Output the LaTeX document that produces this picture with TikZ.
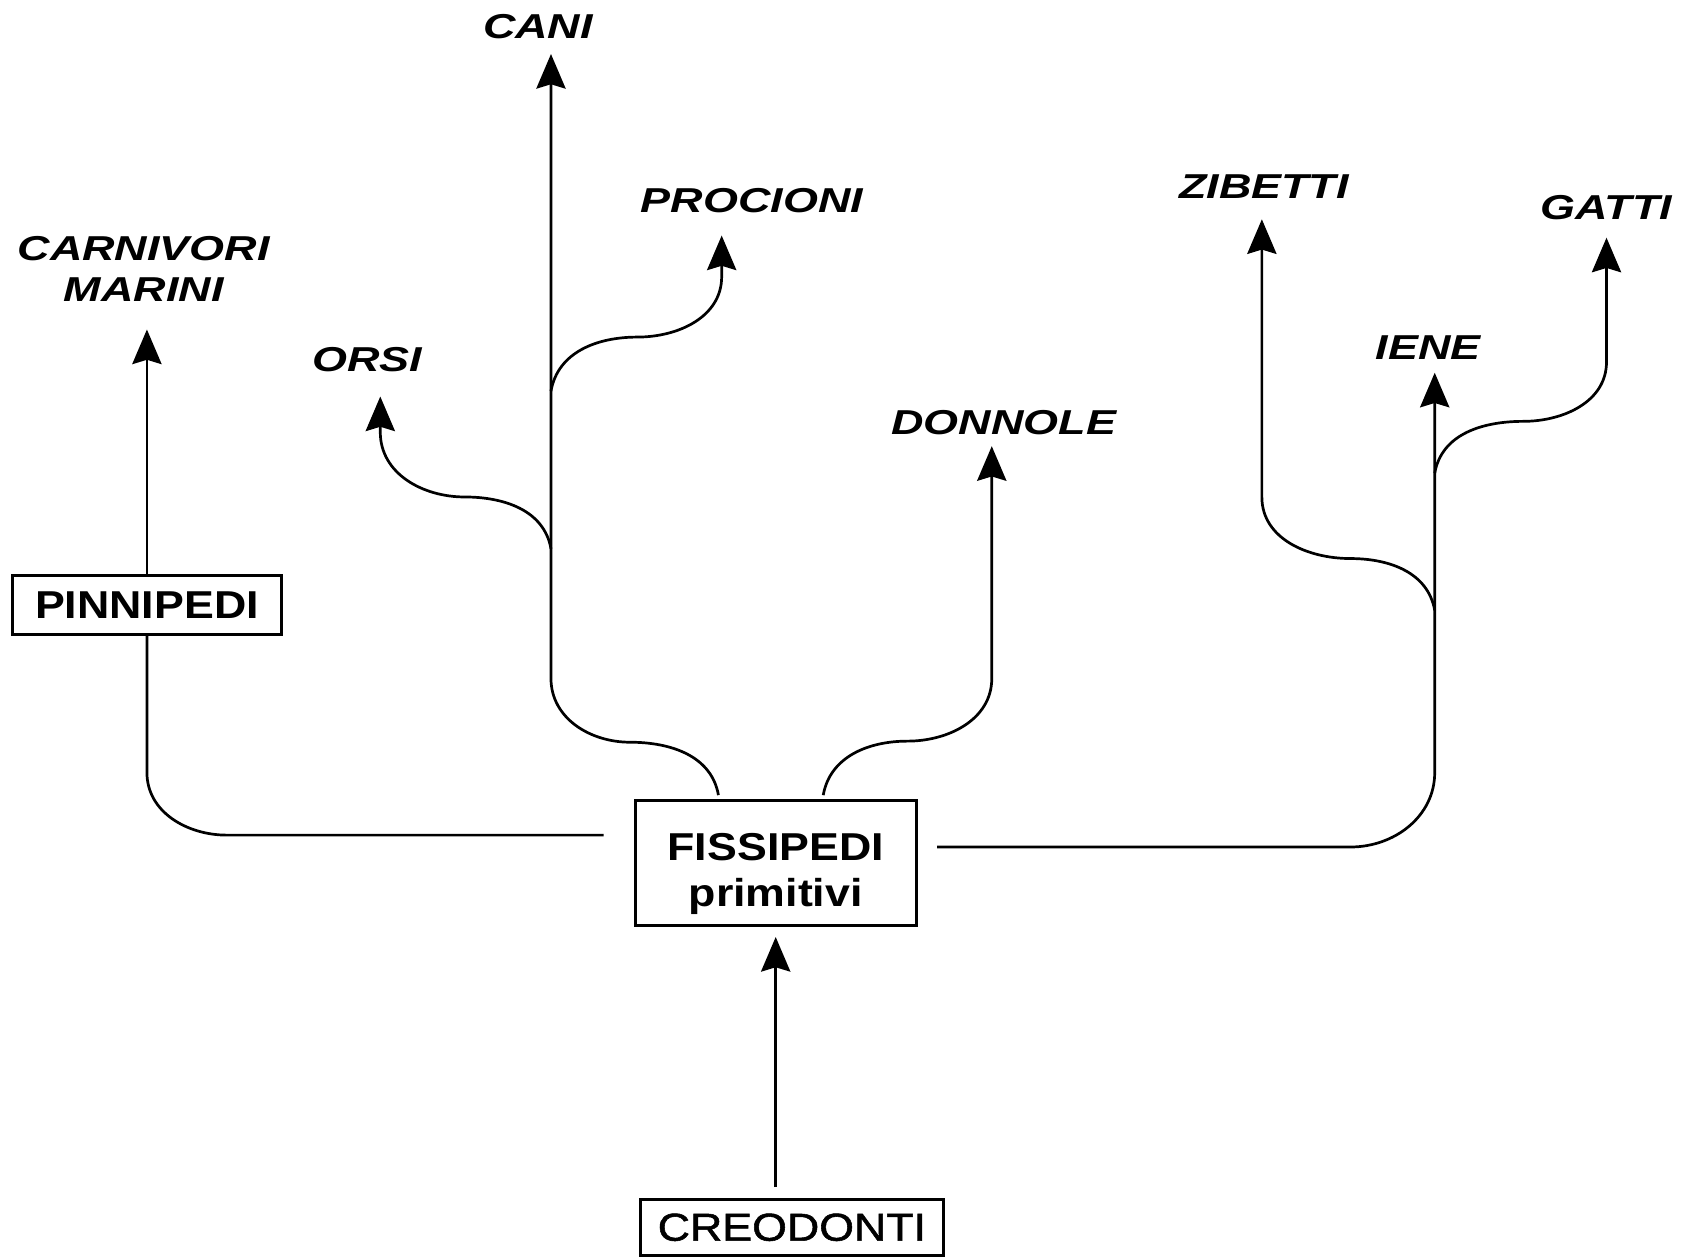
\documentclass[tikz,border=0pt]{standalone}
\usepackage{fontspec}
\newfontfamily\boxfont{Liberation Sans}[FakeStretch=1.15]
\newfontfamily\medfont{Liberation Sans}[FakeStretch=1.15,FakeBold=1.4]
\newfontfamily\labfont{Liberation Sans}[FakeStretch=1.3]
\usetikzlibrary{arrows.meta}
\tikzset{
  ln/.style={line width=2.5pt},
  arr/.style={ln, -{Stealth[length=32pt,width=27pt,inset=4pt]}},
  boxn/.style={draw, line width=2.6pt, fill=white, inner sep=0pt},
  boxtxt/.style={inner sep=0pt, align=center, font=\boxfont\bfseries\fontsize{36}{42}\selectfont},
  lab/.style={inner sep=0pt, align=center, font=\labfont\bfseries\itshape\fontsize{32}{38}\selectfont},
}
\begin{document}
\begin{tikzpicture}[x=1pt,y=1pt]
\useasboundingbox (0,0) rectangle (1568,-1164);
% labels
\node[lab] (cani) at (498,-25) {CANI};
\node[lab] (proc) at (696,-186) {PROCIONI};
\node[lab] (carn) at (133,-249) {CARNIVORI\\MARINI};
\node[lab] (orsi) at (340,-333) {ORSI};
\node[lab] (donn) at (929,-391) {DONNOLE};
\node[lab] (zib) at (1170,-173) {ZIBETTI};
\node[lab] (gat) at (1487,-192) {GATTI};
\node[lab] (iene) at (1322,-322) {IENE};
% boxes
\node[boxn, boxtxt, minimum width=249pt, minimum height=54pt] (pin) at (136,-560) {PINNIPEDI};
\node[boxn, minimum width=260pt, minimum height=116pt] (fis) at (718,-799) {};
\node[boxtxt] (fist) at (718,-809) {FISSIPEDI\\primitivi};
\node[boxn, boxtxt, font=\medfont\fontsize{36}{42}\selectfont, minimum width=280pt, minimum height=52pt] (creo) at (733,-1136) {CREODONTI};
% arrow tips and junctions
\coordinate (tcani) at (510,-50);
\coordinate (tproc) at (668,-218);
\coordinate (torsi) at (352,-367);
\coordinate (tdonn) at (918,-413);
\coordinate (tzib) at (1168,-203);
\coordinate (tiene) at (1328,-345);
\coordinate (tgat) at (1487,-220);
\coordinate (tcarn) at (136,-305);
\coordinate (fL) at ([xshift=-28pt,yshift=26pt]fis.west);
\coordinate (fR) at ([xshift=18pt,yshift=15pt]fis.east);
\coordinate (fTL) at (665,-736);
\coordinate (fTR) at (762,-736);
\coordinate (jo) at (510,-508);
\coordinate (jp) at (510,-362);
\coordinate (jz) at (1328,-565);
\coordinate (jg) at (1328,-438);
% connectors
\draw[arr] (fTL) to[out=100,in=0] (583,-687) to[out=180,in=-90] (510,-628) -- (tcani);
\draw[arr] (jo) to[out=100,in=0] (430,-460) to[out=180,in=-90] (352,-400) -- (torsi);
\draw[arr] (jp) to[out=80,in=180] (590,-312) to[out=0,in=-90] (668,-256) -- (tproc);
\draw[arr] (fTR) to[out=80,in=180] (840,-686) to[out=0,in=-90] (918,-628) -- (tdonn);
\draw[arr] (fR) -- (1250,-784) to[out=0,in=-90] (1328,-715) -- (tiene);
\draw[arr] (jz) to[out=100,in=0] (1250,-517) to[out=180,in=-90] (1168,-460) -- (tzib);
\draw[arr] (jg) to[out=80,in=180] (1410,-390) to[out=0,in=-90] (1487,-335) -- (tgat);
\draw[ln] (fL) -- (210,-773) to[out=180,in=-90] (136,-715) -- (pin.south);
\draw[arr] (pin.north) -- (tcarn);
\draw[arr] ([yshift=10pt]creo.north -| fis.south) -- ([yshift=-9pt]fis.south);
\end{tikzpicture}
\end{document}
